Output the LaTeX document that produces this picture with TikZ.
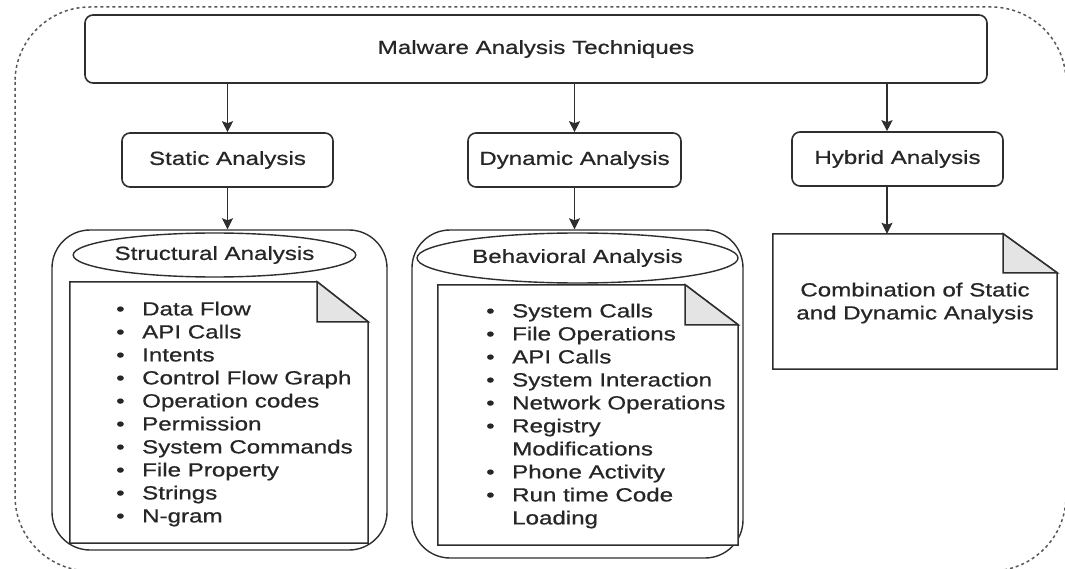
\documentclass[tikz,border=0pt]{standalone}
\usepackage{fontspec}
\setmainfont{Liberation Sans}[FakeStretch=1.27,FakeBold=0.7]
\usetikzlibrary{arrows.meta,shapes.geometric,calc}
\definecolor{ln}{HTML}{2E2E2E}
\definecolor{tx}{HTML}{262626}
\definecolor{foldc}{HTML}{E4E4E4}
\newcommand\bul{\makebox[28pt][l]{\hspace{2pt}•}}
\newcommand\nobul{\makebox[28pt][l]{}}
\begin{document}
\begin{tikzpicture}[x=1pt,y=-1pt,
  every node/.style={font=\fontsize{19}{23}\selectfont, text=tx},
  rbox/.style={draw=ln, line width=1.6pt, rounded corners=8pt, inner sep=0pt},
  arr/.style={draw=ln, line width=1.6pt, -{Stealth[length=11pt,width=11pt,inset=2pt]}},
  cont/.style={draw=ln, line width=1.4pt, rounded corners=38pt, inner sep=0pt},
  ell/.style={ellipse, draw=ln, line width=1.4pt, inner sep=0pt},
  docbox/.style={inner sep=0pt, align=center},
  docline/.style={draw=ln, line width=1.5pt, fill=white},
  foldline/.style={draw=ln, line width=1.5pt, fill=foldc},
  outer/.style={draw=ln!80, line width=1.5pt, dash pattern=on 3pt off 3pt, rounded corners=75pt}
]
\useasboundingbox (0,0) rectangle (1065,569);
\draw[outer] (15,7) rectangle (1066,571);

% top level
\node[rbox, minimum width=902pt, minimum height=68pt] (top) at (536,49) {Malware Analysis Techniques};
\node[rbox, minimum width=211pt, minimum height=54pt] (static) at (227.5,160) {Static Analysis};
\node[rbox, minimum width=213pt, minimum height=54pt] (dynamic) at (574.5,160) {Dynamic Analysis};
\node[rbox, minimum width=211pt, minimum height=54pt] (hybrid) at (897.5,159) {Hybrid Analysis};
\coordinate (hx) at (887,0);

% containers
\node[cont, minimum width=335pt, minimum height=320pt] (contS) at (219.5,390) {};
\node[cont, minimum width=331pt, minimum height=328pt] (contD) at (577.5,394) {};

% ellipses
\node[ell, minimum width=275pt, minimum height=44pt] (ellS) at (214.5,255) {Structural Analysis};
\node[ell, minimum width=321pt, minimum height=50pt] (ellD) at (577.5,258) {Behavioral Analysis};

% documents
\node[docbox, minimum width=298pt, minimum height=261pt] (docS) at (219,412.5) {};
\node[docbox, minimum width=300pt, minimum height=260pt] (docD) at (588,415) {};
\node[docbox, minimum width=284pt, minimum height=135pt] (docH) at (915,301.5) {};

\draw[docline] (docS.north west) -- ($(docS.north east)+(-51,0)$) -- ($(docS.north east)+(0,40)$) -- (docS.south east) -- (docS.south west) -- cycle;
\draw[foldline] ($(docS.north east)+(-51,0)$) -- ($(docS.north east)+(-51,40)$) -- ($(docS.north east)+(0,40)$) -- cycle;

\draw[docline] (docD.north west) -- ($(docD.north east)+(-53,0)$) -- ($(docD.north east)+(0,40)$) -- (docD.south east) -- (docD.south west) -- cycle;
\draw[foldline] ($(docD.north east)+(-53,0)$) -- ($(docD.north east)+(-53,40)$) -- ($(docD.north east)+(0,40)$) -- cycle;

\draw[docline] (docH.north west) -- ($(docH.north east)+(-54,0)$) -- ($(docH.north east)+(0,39)$) -- (docH.south east) -- (docH.south west) -- cycle;
\draw[foldline] ($(docH.north east)+(-54,0)$) -- ($(docH.north east)+(-54,39)$) -- ($(docH.north east)+(0,39)$) -- cycle;

% texts
\node[inner sep=0pt, align=left, anchor=west] (listS) at (114,414) {%
\bul Data Flow\\
\bul API Calls\\
\bul Intents\\
\bul Control Flow Graph\\
\bul Operation codes\\
\bul Permission\\
\bul System Commands\\
\bul File Property\\
\bul Strings\\
\bul N-gram};

\node[inner sep=0pt, align=left, anchor=west] (listD) at (484,416) {%
\bul System Calls\\
\bul File Operations\\
\bul API Calls\\
\bul System Interaction\\
\bul Network Operations\\
\bul Registry\\
\nobul Modifications\\
\bul Phone Activity\\
\bul Run time Code\\
\nobul Loading};

\node[inner sep=0pt, align=center] (txtH) at (915,303) {Combination of Static\\and Dynamic Analysis};

% arrows
\draw[arr] (top.south -| static.north) -- (static.north);
\draw[arr] (top.south -| dynamic.north) -- (dynamic.north);
\draw[arr] (top.south -| hx) -- (hybrid.north -| hx);
\draw[arr] (static.south) -- (static.south |- contS.north);
\draw[arr] (dynamic.south) -- (dynamic.south |- contD.north);
\draw[arr] (hybrid.south -| hx) -- (docH.north -| hx);
\end{tikzpicture}
\end{document}
